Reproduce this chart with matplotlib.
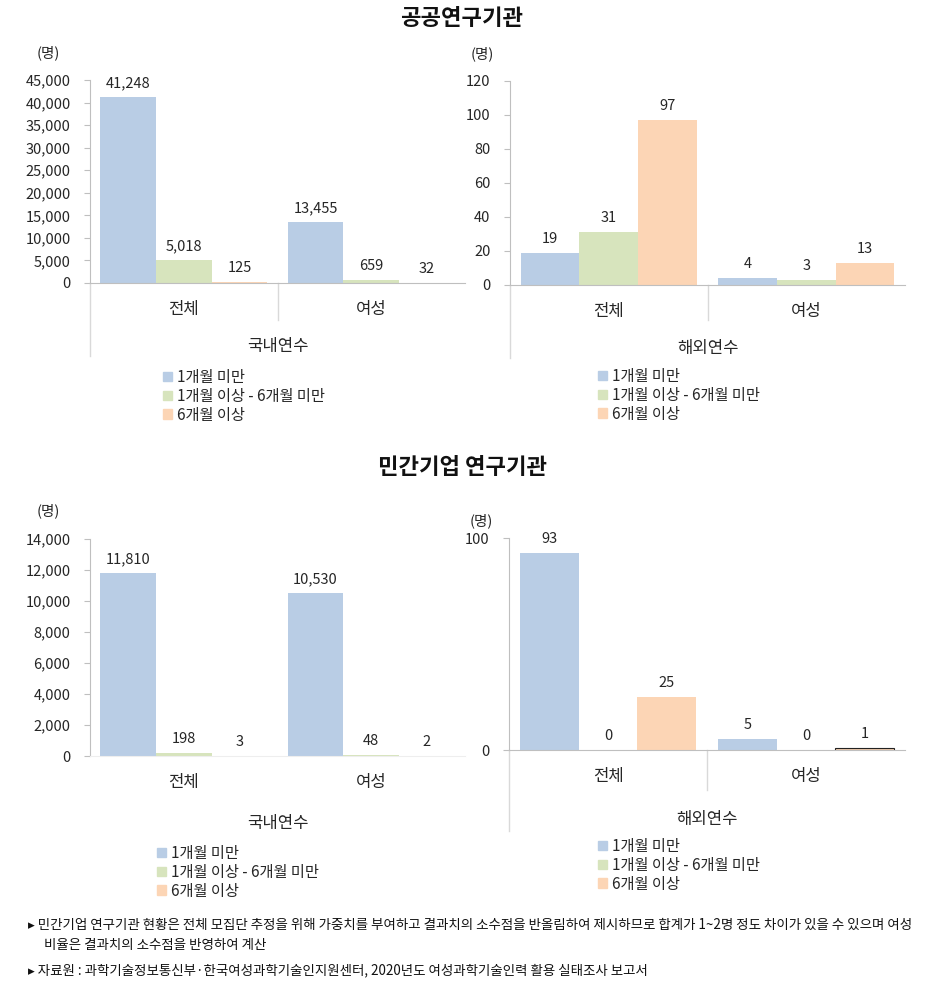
import matplotlib
matplotlib.use("Agg")
import matplotlib.pyplot as plt
from matplotlib.patches import Patch
import numpy as np

plt.rcParams['font.family'] = ['Noto Sans CJK KR', 'DejaVu Sans']

# data
groups = ["전체", "여성"]
series = ["1개월 미만", "1개월 이상 - 6개월 미만", "6개월 이상"]
colors = ["#B9CDE5", "#D7E4BD", "#FCD5B5"]

pub_dom = [[41248, 13455], [5018, 659], [125, 32]]
pub_abr = [[19, 4], [31, 3], [97, 13]]
pri_dom = [[11810, 10530], [198, 48], [3, 2]]
pri_abr = [[93, 5], [0, 0], [25, 1]]

pub_dom_ticks = np.arange(0, 45001, 5000)
pub_abr_ticks = np.arange(0, 121, 20)
pri_dom_ticks = np.arange(0, 14001, 2000)
pri_abr_ticks = [0, 100]

title_pub = "공공연구기관"
title_pri = "민간기업 연구기관"
notes = ["민간기업 연구기관 현황은 전체 모집단 추정을 위해 가중치를 부여하고 결과치의 소수점을 반올림하여 제시하므로 합계가 1~2명 정도 차이가 있을 수 있으며 여성",
         "비율은 결과치의 소수점을 반영하여 계산",
         "자료원 : 과학기술정보통신부·한국여성과학기술인지원센터, 2020년도 여성과학기술인력 활용 실태조사 보고서"]

W, H = 925, 1001
fig = plt.figure(figsize=(W / 100, H / 100), dpi=100)
txt = "#262626"
axcol = "#BFBFBF"


def px_axes(x0, x1, ytop, ybot):
    return fig.add_axes([x0 / W, 1 - ybot / H, (x1 - x0) / W, (ybot - ytop) / H])


def draw(ax, data, ticks, ymax, group_label, extend, divider, light_x=False, outline=None, lpad=14):
    x = np.arange(len(groups))
    bw = 0.297
    for i, vals in enumerate(data):
        bars = ax.bar(x + (i - 1) * bw, vals, bw, color=colors[i], linewidth=0)
        ax.bar_label(bars, labels=[f"{v:,}" for v in vals], padding=5, fontsize=10.5, color=txt)
    if outline is not None:
        i, j = outline
        ax.bar(x[j] + (i - 1) * bw, data[i][j], bw, color=colors[i], edgecolor="#222222", linewidth=0.8)
    ax.set_xlim(-0.5, 1.5)
    ax.set_ylim(0, ymax)
    ax.set_yticks(ticks)
    ax.set_yticklabels([f"{t:,}" for t in ticks], fontsize=10.5, color=txt)
    ax.tick_params(axis='y', length=4, color=axcol, pad=10)
    ax.set_xticks(x)
    ax.set_xticklabels(groups, fontsize=12, color=txt)
    ax.tick_params(axis='x', length=0, pad=13)
    ax.set_xlabel(group_label, fontsize=12, color=txt, labelpad=lpad)
    for s in ["top", "right"]:
        ax.spines[s].set_visible(False)
    ax.spines["left"].set_color(axcol)
    ax.spines["bottom"].set_color("#EEEEEE" if light_x else axcol)
    if extend:
        ax.plot([0, 0], [0, extend], transform=ax.transAxes, color="#D9D9D9", lw=1, clip_on=False)
    if divider:
        ax.plot([0.5, 0.5], [0, divider], transform=ax.transAxes, color="#D9D9D9", lw=1, clip_on=False)
    ax.text(-0.11, 1.11, "(명)", transform=ax.transAxes, fontsize=10.5, color=txt, ha="center")


def legend_at(xp, yp):
    handles = [Patch(color=c, label=s) for c, s in zip(colors, series)]
    fig.legend(handles=handles, loc="upper left", bbox_to_anchor=(xp / W, 1 - yp / H), frameon=False,
               fontsize=11, handlelength=0.6, handleheight=0.6, handletextpad=0.3, labelspacing=0.12,
               borderaxespad=0, borderpad=0, labelcolor=txt)


ax1 = px_axes(90, 465, 80, 283)
draw(ax1, pub_dom, pub_dom_ticks, 45000, "국내연수", -0.36, -0.18)
legend_at(163, 369)

ax2 = px_axes(510, 905, 81, 285)
draw(ax2, pub_abr, pub_abr_ticks, 120, "해외연수", -0.36, -0.17)
ax2.texts[-1].set_x(-0.07)
legend_at(598, 368)

ax3 = px_axes(90, 465, 539, 756)
draw(ax3, pri_dom, pri_dom_ticks, 14000, "국내연수", 0, 0, light_x=True, lpad=17)
legend_at(157, 845)

ax4 = px_axes(509, 905, 538, 750)
draw(ax4, pri_abr, pri_abr_ticks, 100, "해외연수", -0.38, -0.19, outline=(2, 1), lpad=19)
ax4.texts[-1].set_x(-0.07)
ax4.texts[-1].set_y(1.06)
legend_at(598, 838)

fig.text(462 / W, 1 - 18 / H, title_pub, fontsize=16, fontweight="bold", ha="center", va="center", color="#111111")
fig.text(462 / W, 1 - 467 / H, title_pri, fontsize=16, fontweight="bold", ha="center", va="center", color="#111111")

fig.text(28 / W, 1 - 925 / H, "▸ " + notes[0], fontsize=9.7, va="center", color="#111111",
         fontweight="medium", family=['Noto Sans CJK KR', 'DejaVu Sans'])
fig.text(44 / W, 1 - 945 / H, notes[1], fontsize=9.7, va="center", color="#111111", fontweight="medium")
fig.text(28 / W, 1 - 970 / H, "▸ " + notes[2], fontsize=9.7, va="center", color="#111111",
         fontweight="medium", family=['Noto Sans CJK KR', 'DejaVu Sans'])

fig.savefig("out.png", dpi=100)
